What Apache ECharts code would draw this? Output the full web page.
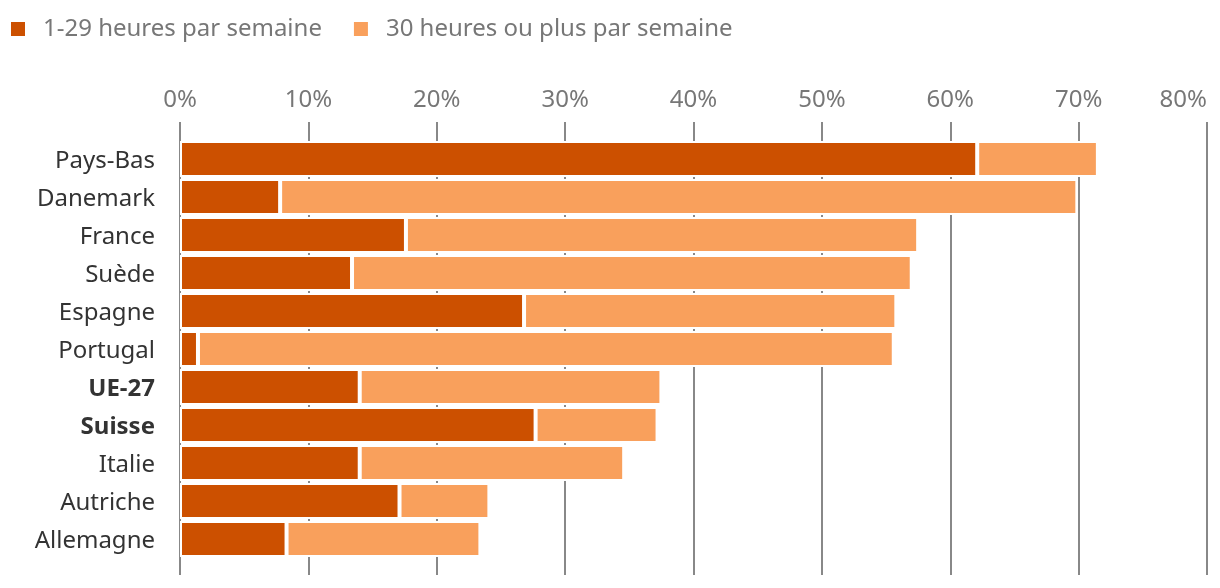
<!DOCTYPE html>
<html>
<head>
<meta charset="utf-8">
<script src="https://cdn.jsdelivr.net/npm/echarts@6/dist/echarts.min.js"></script>
<style>
html,body{margin:0;padding:0;background:#fff;}
#chart{width:1220px;height:588px;}
</style>
</head>
<body>
<div id="chart"></div>
<script>
var categories = ["Pays-Bas","Danemark","France","Suède","Espagne","Portugal","UE-27","Suisse","Italie","Autriche","Allemagne"];
var boldCategories = ["UE-27","Suisse"];
var seriesNames = ["1-29 heures par semaine","30 heures ou plus par semaine"];
var partTime = [62.1, 7.8, 17.6, 13.4, 26.8, 1.4, 14.0, 27.7, 14.0, 17.1, 8.3];
var fullTime = [9.4, 62.1, 39.9, 43.6, 29.0, 54.2, 23.5, 9.5, 20.6, 7.0, 15.1];
var xTicks = [0, 10, 20, 30, 40, 50, 60, 70, 80];

var FONT = "Noto Sans";
var FS = 24;
var chart = echarts.init(document.getElementById('chart'), null, {renderer:'canvas'});
var option = {
  animation: false,
  backgroundColor: '#fff',
  textStyle: {fontFamily: FONT},
  legend: {
    left: 4, top: 12,
    itemWidth: 16, itemHeight: 16, itemGap: 30,
    icon: 'rect',
    data: seriesNames,
    textStyle: {fontFamily: FONT, fontSize: FS, color: '#777', padding: [0, 0, 0, 12]}
  },
  grid: [
    {left: 180, right: 13, top: 122, bottom: 13, containLabel: false, outerBoundsMode: 'none'},
    {left: 180, right: 13, top: 140, bottom: 30, containLabel: false, outerBoundsMode: 'none'}
  ],
  xAxis: [
    {
      gridIndex: 0, type: 'value', position: 'top',
      min: xTicks[0], max: xTicks[xTicks.length - 1], interval: 10,
      axisLine: {show: false}, axisTick: {show: false},
      axisLabel: {fontFamily: FONT, fontSize: FS, color: '#777', margin: 10,
        alignMaxLabel: 'right',
        formatter: function (v) { return v + '%'; }},
      splitLine: {show: true, lineStyle: {color: '#888', width: 2}}
    },
    {
      gridIndex: 1, type: 'value', position: 'top',
      min: xTicks[0], max: xTicks[xTicks.length - 1], interval: 10,
      axisLine: {show: false}, axisTick: {show: false},
      axisLabel: {show: false}, splitLine: {show: false}
    }
  ],
  yAxis: [
    {
      gridIndex: 1, type: 'category', data: categories, inverse: true,
      axisLine: {show: false}, axisTick: {show: false},
      axisLabel: {
        margin: 25, fontFamily: FONT, fontSize: FS, color: '#333',
        padding: [4, 0, 0, 0],
        formatter: function (v) {
          return boldCategories.indexOf(v) >= 0 ? '{b|' + v + '}' : v;
        },
        rich: {b: {fontFamily: FONT, fontSize: FS, fontWeight: 'bold', color: '#333'}}
      }
    },
    {
      gridIndex: 0, type: 'value', min: 0, max: 1,
      axisLine: {show: false}, axisTick: {show: false},
      axisLabel: {show: false}, splitLine: {show: false}
    }
  ],
  series: [
    {
      name: seriesNames[0], type: 'bar', stack: 'total',
      xAxisIndex: 1, yAxisIndex: 0,
      barCategoryGap: '5.3%',
      data: partTime,
      itemStyle: {color: '#cc5000', borderColor: '#fff', borderWidth: 2}
    },
    {
      name: seriesNames[1], type: 'bar', stack: 'total',
      xAxisIndex: 1, yAxisIndex: 0,
      barCategoryGap: '5.3%',
      data: fullTime,
      itemStyle: {color: '#f9a05c', borderColor: '#fff', borderWidth: 2}
    }
  ]
};
chart.setOption(option);
</script>
</body>
</html>
